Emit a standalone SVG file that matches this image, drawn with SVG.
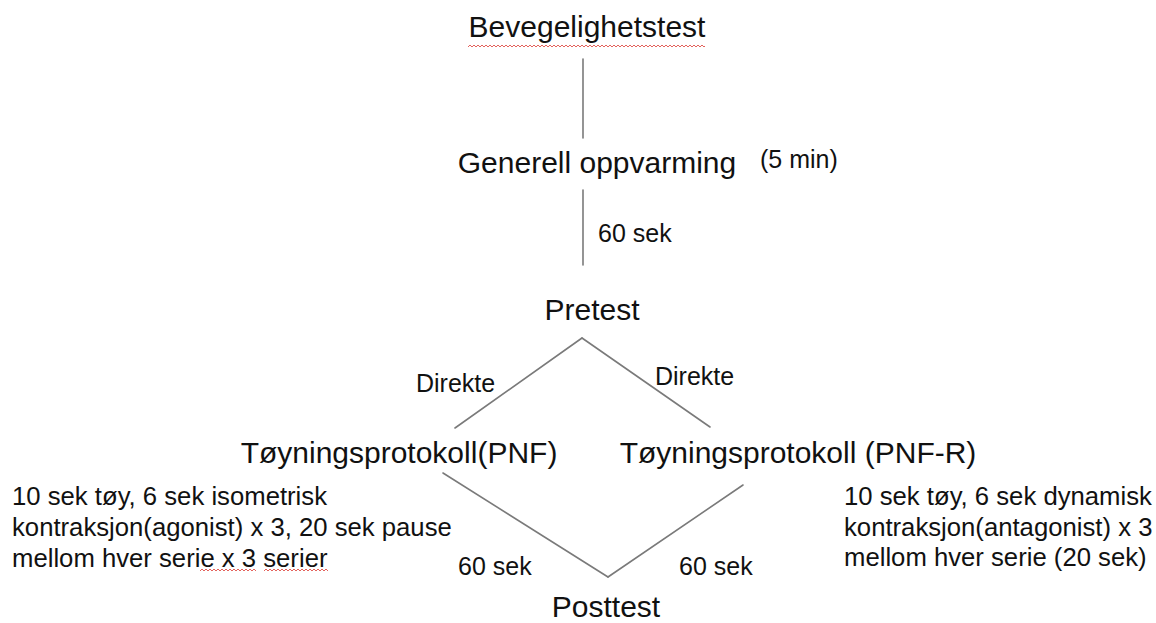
<svg xmlns="http://www.w3.org/2000/svg" width="1156" height="623" viewBox="0 0 1156 623">
<defs>
<pattern id="squiggle" patternUnits="userSpaceOnUse" x="0" y="0" width="4" height="4">
<path d="M0 3 L2 1 L4 3" fill="none" stroke="#e0504a" stroke-width="0.9"/>
</pattern>
<style>
.node{font-family:"Liberation Sans",Arial,sans-serif;font-size:30px;fill:#111;}
.small{font-family:"Liberation Sans",Arial,sans-serif;font-size:25px;fill:#111;}
.desc{font-family:"Liberation Sans",Arial,sans-serif;font-size:25.7px;fill:#111;}
.conn{stroke:#7a7a7a;stroke-width:1.6;fill:none;stroke-linecap:round;}
</style>
</defs>
<rect width="1156" height="623" fill="#fff"/>
<g id="connectors">
<line class="conn" x1="583" y1="59" x2="583" y2="138"/>
<line class="conn" x1="583" y1="190" x2="583" y2="265"/>
<line class="conn" x1="582" y1="338" x2="455" y2="428"/>
<line class="conn" x1="582" y1="338" x2="710" y2="427"/>
<line class="conn" x1="443" y1="473" x2="608" y2="577"/>
<line class="conn" x1="608" y1="577" x2="743" y2="485"/>
<text class="small" x="598" y="242">60 sek</text>
<text class="small" x="416" y="392">Direkte</text>
<text class="small" x="655" y="385">Direkte</text>
<text class="small" x="458" y="575">60 sek</text>
<text class="small" x="679" y="575">60 sek</text>
</g>
<g id="node-bevegelighetstest">
<text class="node" x="587" y="37" text-anchor="middle">Bevegelighetstest</text>
<rect x="468" y="44" width="237" height="4" fill="url(#squiggle)"/>
</g>
<g id="node-oppvarming">
<text class="node" x="597" y="173" text-anchor="middle">Generell oppvarming</text>
<text class="small" x="760" y="168">(5 min)</text>
</g>
<g id="node-pretest">
<text class="node" x="592" y="320" text-anchor="middle">Pretest</text>
</g>
<g id="node-pnf">
<text class="node" x="399" y="463" text-anchor="middle">Tøyningsprotokoll(PNF)</text>
<text class="desc" x="12" y="505">10 sek tøy, 6 sek isometrisk</text>
<text class="desc" x="12" y="536">kontraksjon(agonist) x 3, 20 sek pause</text>
<text class="desc" x="12" y="567">mellom hver serie x 3 serier</text>
<rect x="200" y="568" width="56" height="4" fill="url(#squiggle)"/>
<rect x="264" y="568" width="64" height="4" fill="url(#squiggle)"/>
</g>
<g id="node-pnfr">
<text class="node" x="798" y="463" text-anchor="middle">Tøyningsprotokoll (PNF-R)</text>
<text class="desc" x="844" y="505">10 sek tøy, 6 sek dynamisk</text>
<text class="desc" x="844" y="536">kontraksjon(antagonist) x 3</text>
<text class="desc" x="844" y="566">mellom hver serie (20 sek)</text>
</g>
<g id="node-posttest">
<text class="node" x="606" y="617" text-anchor="middle">Posttest</text>
</g>
</svg>
